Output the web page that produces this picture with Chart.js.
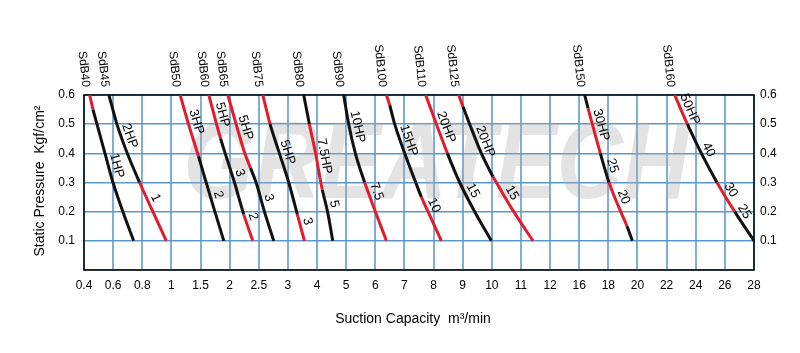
<!DOCTYPE html>
<html>
<head>
<meta charset="utf-8">
<script src="https://cdn.jsdelivr.net/npm/chart.js@4"></script>
<style>
  html, body { margin: 0; padding: 0; background: #fff; }
</style>
</head>
<body>
<canvas id="blowerChart" width="800" height="353"></canvas>
<script>
// x axis: suction capacity m3/min, the ticks are evenly spaced on the chart
const xTicks = [0.4, 0.6, 0.8, 1, 1.5, 2, 2.5, 3, 4, 5, 6, 7, 8, 9, 10, 11, 12, 16, 18, 20, 22, 24, 26, 28];
// y axis: static pressure kgf/cm2
const yTicks = [0.1, 0.2, 0.3, 0.4, 0.5, 0.6];

const models = ['SdB40', 'SdB45', 'SdB50', 'SdB60', 'SdB65', 'SdB75', 'SdB80',
                'SdB90', 'SdB100', 'SdB110', 'SdB125', 'SdB150', 'SdB160'];

// capacity (m3/min), top to bottom
const capacity = [
  [0.439, 0.462, 0.489, 0.544, 0.599, 0.667, 0.741],          // SdB40
  [0.571, 0.626, 0.697, 0.782, 0.873, 0.965],                 // SdB45
  [1.151, 1.294, 1.465, 1.597, 1.746, 1.9],                   // SdB50
  [1.643, 1.775, 1.845, 1.923, 2.083, 2.243, 2.397],          // SdB60
  [1.969, 2.111, 2.26, 2.357, 2.454, 2.597, 2.757],           // SdB65
  [2.569, 2.694, 2.854, 3.029, 3.326, 3.566],                 // SdB75
  [3.543, 3.737, 3.95, 4.13, 4.18, 4.36, 4.54],               // SdB80
  [4.915, 5.087, 5.316, 5.636, 6.003, 6.381],                 // SdB90
  [6.381, 6.494, 6.666, 7.009, 7.387, 7.583, 7.81, 8.269],    // SdB100
  [7.73, 8.097, 8.475, 8.897, 9.412, 9.985],                  // SdB110
  [8.863, 9.011, 9.24, 9.642, 10.04, 10.157, 10.751, 11.414], // SdB125
  [16.376, 16.604, 16.902, 17.452, 18.048, 18.85, 19.282, 19.65], // SdB150
  [22.556, 23.426, 24.388, 25.46, 26.676, 28]                 // SdB160
];

// static pressure (kgf/cm2) of the same points
const pressure = [
  [0.6, 0.55, 0.5, 0.4, 0.3, 0.2, 0.1],
  [0.6, 0.5, 0.4, 0.3, 0.2, 0.1],
  [0.6, 0.5, 0.39, 0.3, 0.2, 0.1],
  [0.6, 0.5, 0.45, 0.4, 0.3, 0.19, 0.1],
  [0.6, 0.5, 0.4, 0.35, 0.3, 0.2, 0.1],
  [0.6, 0.5, 0.4, 0.3, 0.19, 0.1],
  [0.6, 0.5, 0.4, 0.3, 0.275, 0.2, 0.1],
  [0.6, 0.5, 0.4, 0.3, 0.2, 0.1],
  [0.6, 0.565, 0.5, 0.4, 0.3, 0.25, 0.2, 0.1],
  [0.6, 0.5, 0.4, 0.3, 0.2, 0.1],
  [0.6, 0.56, 0.5, 0.4, 0.32, 0.3, 0.2, 0.1],
  [0.6, 0.555, 0.5, 0.4, 0.3, 0.2, 0.15, 0.1],
  [0.6, 0.5, 0.4, 0.3, 0.2, 0.1]
];

// motor power labels along each curve: [text, pressure where it sits]
const powerLabels = [
  [['1HP', 0.35]],
  [['2HP', 0.45], ['1', 0.235]],
  [['3HP', 0.5], ['2', 0.25]],
  [['5HP', 0.525], ['3', 0.325], ['2', 0.175]],
  [['5HP', 0.48], ['3', 0.24]],
  [['5HP', 0.395], ['3', 0.16]],
  [['7.5HP', 0.385], ['5', 0.22]],
  [['10HP', 0.485], ['7.5', 0.26]],
  [['15HP', 0.435], ['10', 0.21]],
  [['20HP', 0.48], ['15', 0.26]],
  [['20HP', 0.43], ['15', 0.25]],
  [['30HP', 0.49], ['25', 0.35], ['20', 0.24]],
  [['50HP', 0.54], ['40', 0.4], ['30', 0.26], ['25', 0.185]]
];

// colour of each piece between two points, r = red, k = black
const segColors = ['rkkkkk', 'kkkrr', 'rrkkk', 'rrkkkr', 'rrrkkk', 'rkkkr', 'krrrkk',
                   'kkkrr', 'rkkkkrr', 'rrkkk', 'rkkkrrr', 'krrkrrk', 'rkkrk'];

const RED = '#e31b2d';
const BLACK = '#111111';
const FONT = "'Liberation Sans', Arial, sans-serif";

// capacity value -> position on the evenly spaced x axis
function toIdx(v) {
  for (let i = 0; i < xTicks.length - 1; i++) {
    if (v <= xTicks[i + 1]) return i + (v - xTicks[i]) / (xTicks[i + 1] - xTicks[i]);
  }
  return xTicks.length - 1;
}

function curveIdxAt(ci, p) {
  const xs = capacity[ci], ys = pressure[ci];
  for (let i = 0; i < ys.length - 1; i++) {
    if (p <= ys[i] && p >= ys[i + 1]) {
      const t = (ys[i] - p) / (ys[i] - ys[i + 1]);
      return toIdx(xs[i]) + t * (toIdx(xs[i + 1]) - toIdx(xs[i]));
    }
  }
  return toIdx(xs[xs.length - 1]);
}

const datasets = models.map((m, ci) => ({
  label: m,
  data: capacity[ci].map((c, i) => ({ x: toIdx(c), y: pressure[ci][i] })),
  borderWidth: 3,
  pointRadius: 0,
  cubicInterpolationMode: 'monotone',
  borderColor: BLACK,
  segment: {
    borderColor: ctx => segColors[ci][ctx.p0DataIndex] === 'r' ? RED : BLACK
  }
}));

const textPlugin = {
  id: 'chartText',
  beforeDatasetsDraw(chart) {
    const { ctx, chartArea } = chart;
    // watermark
    ctx.save();
    ctx.font = "italic bold 110px " + FONT;
    const w = ctx.measureText('GREATECH').width;
    ctx.translate(436, 168);
    ctx.scale(505 / w, 1);
    ctx.fillStyle = 'rgba(170,170,170,0.33)';
    ctx.textAlign = 'center';
    ctx.textBaseline = 'middle';
    ctx.fillText('GREATECH', 0, 0);
    ctx.restore();
    // frame
    ctx.save();
    ctx.strokeStyle = '#000';
    ctx.lineWidth = 1.5;
    ctx.strokeRect(chartArea.left, chartArea.top, chartArea.right - chartArea.left, chartArea.bottom - chartArea.top);
    ctx.restore();
  },
  afterDatasetsDraw(chart) {
    const { ctx, chartArea, scales } = chart;
    const xs = scales.x, ys = scales.y;
    ctx.save();
    ctx.fillStyle = '#000';
    ctx.textBaseline = 'middle';

    // model names above the plot
    ctx.font = '12px ' + FONT;
    models.forEach((m, ci) => {
      const px = xs.getPixelForValue(toIdx(capacity[ci][0]));
      ctx.save();
      ctx.translate(px - 4, chartArea.top - 8);
      ctx.rotate(84 * Math.PI / 180);
      ctx.textAlign = 'right';
      ctx.fillText(m, 0, 0);
      ctx.restore();
    });

    // power labels along the curves
    ctx.font = '13px ' + FONT;
    powerLabels.forEach((list, ci) => {
      list.forEach(([txt, p]) => {
        const p1 = Math.min(p + 0.03, 0.6), p2 = Math.max(p - 0.03, 0.1);
        const ax = xs.getPixelForValue(curveIdxAt(ci, p1)), ay = ys.getPixelForValue(p1);
        const bx = xs.getPixelForValue(curveIdxAt(ci, p2)), by = ys.getPixelForValue(p2);
        const th = Math.atan2(by - ay, bx - ax);
        const cx = xs.getPixelForValue(curveIdxAt(ci, p)), cy = ys.getPixelForValue(p);
        const off = 8;
        ctx.save();
        ctx.translate(cx + Math.sin(th) * off, cy - Math.cos(th) * off);
        ctx.rotate(th);
        ctx.textAlign = 'center';
        ctx.fillText(txt, 0, 0);
        ctx.restore();
      });
    });

    // axis titles
    ctx.font = '14px ' + FONT;
    ctx.textAlign = 'center';
    ctx.fillText('Suction Capacity  m\u00b3/min', 413, 319);
    ctx.save();
    ctx.translate(40, 181);
    ctx.rotate(-Math.PI / 2);
    ctx.fillText('Static Pressure  Kgf/cm\u00b2', 0, 0);
    ctx.restore();
    ctx.restore();
  }
};

const yTickCfg = {
  color: '#000',
  font: { size: 12, family: FONT },
  callback: v => v === 0 ? '' : v.toFixed(1)
};

new Chart(document.getElementById('blowerChart').getContext('2d'), {
  type: 'line',
  data: { datasets },
  options: {
    responsive: false,
    animation: false,
    devicePixelRatio: 1,
    layout: { padding: { top: 95, left: 0, right: 0, bottom: 0 } },
    plugins: { legend: { display: false }, tooltip: { enabled: false } },
    scales: {
      x: {
        type: 'linear', min: 0, max: xTicks.length - 1,
        afterBuildTicks: s => { s.ticks = xTicks.map((v, i) => ({ value: i })); },
        afterFit: s => { s.height = 83; },
        ticks: {
          color: '#000', font: { size: 12, family: FONT }, padding: 8,
          maxRotation: 0, autoSkip: false,
          callback: v => xTicks[v]
        },
        grid: { color: '#7eaed9', lineWidth: 2, drawTicks: false },
        border: { display: false }
      },
      y: {
        type: 'linear', min: 0, max: 0.6,
        afterBuildTicks: s => { s.ticks = [0, ...yTicks].map(v => ({ value: v })); },
        afterFit: s => { s.width = 84; },
        ticks: Object.assign({ padding: 9 }, yTickCfg),
        grid: { color: '#5a97cc', lineWidth: 1.5, drawTicks: false },
        border: { display: false }
      },
      y2: {
        type: 'linear', position: 'right', min: 0, max: 0.6,
        afterBuildTicks: s => { s.ticks = [0, ...yTicks].map(v => ({ value: v })); },
        afterFit: s => { s.width = 46; },
        ticks: Object.assign({ padding: 6 }, yTickCfg),
        grid: { display: false, drawTicks: false },
        border: { display: false }
      }
    }
  },
  plugins: [textPlugin]
});
</script>
</body>
</html>
